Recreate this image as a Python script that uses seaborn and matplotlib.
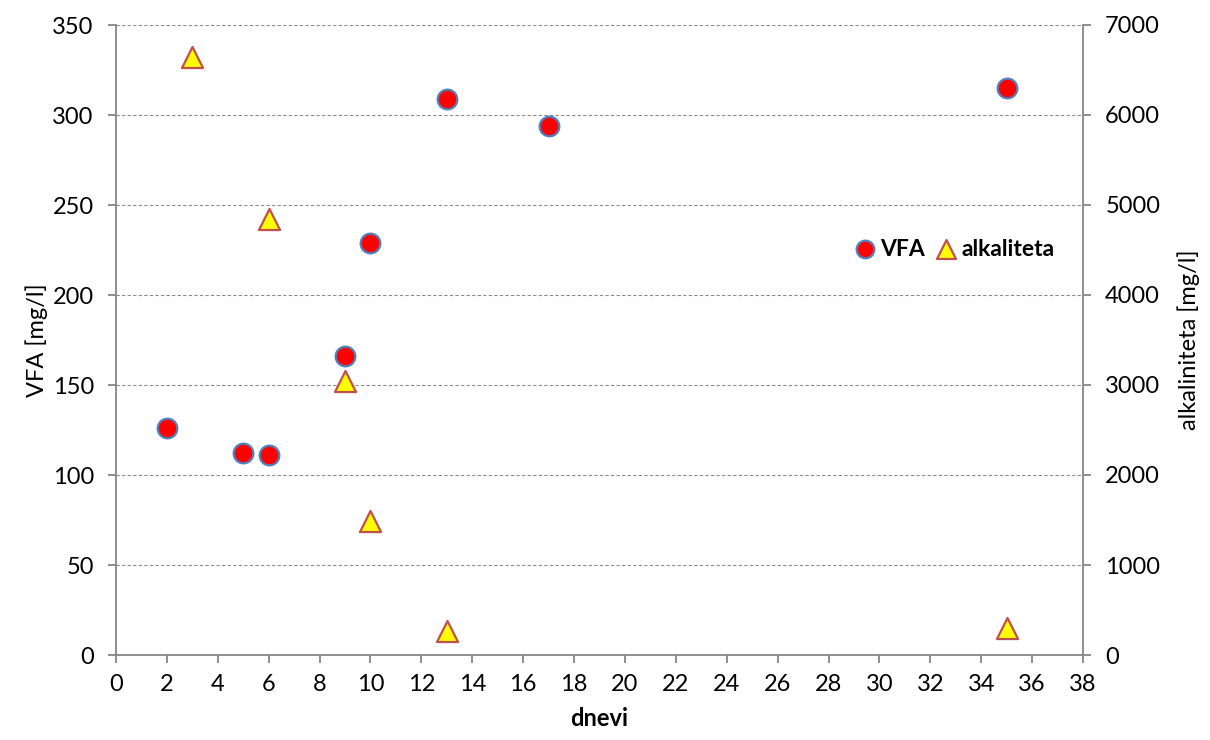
import matplotlib
matplotlib.use("Agg")
import matplotlib.pyplot as plt
import seaborn as sns
import pandas as pd

# Measurements over time (days)
vfa_days = [2, 5, 6, 9, 10, 13, 17, 35]
vfa_values = [126, 112, 111, 166, 229, 309, 294, 315]

alk_days = [3, 6, 9, 10, 13, 35]
alk_values = [6640, 4840, 3040, 1490, 270, 300]

x_ticks = list(range(0, 39, 2))
left_ticks = list(range(0, 351, 50))
right_ticks = list(range(0, 7001, 1000))

sns.set_theme(style="white")
plt.rcParams["font.family"] = ["Lato", "DejaVu Sans"]
plt.rcParams["text.color"] = "black"
plt.rcParams["axes.labelcolor"] = "black"

vfa_df = pd.DataFrame({"dnevi": vfa_days, "VFA": vfa_values})
alk_df = pd.DataFrame({"dnevi": alk_days, "alkaliteta": alk_values})

fig = plt.figure(figsize=(12.1, 7.4), dpi=100)
ax = fig.add_axes([116 / 1210, 85 / 740, 967 / 1210, 630 / 740])
ax2 = ax.twinx()

axis_gray = "#868686"
tick_fs = 17

sns.scatterplot(data=vfa_df, x="dnevi", y="VFA", ax=ax, marker="o", s=200,
                color="#FF0000", edgecolor="#4F81BD", linewidth=1.6,
                label="VFA", legend=False, zorder=3, clip_on=False)
sns.scatterplot(data=alk_df, x="dnevi", y="alkaliteta", ax=ax2, marker="^", s=230,
                color="#FFFF00", edgecolor="#C0504D", linewidth=1.6,
                label="alkaliteta", legend=False, zorder=3, clip_on=False)

ax.set_xlim(0, 38)
ax.set_ylim(0, 350)
ax2.set_ylim(0, 7000)
ax.set_xticks(x_ticks)
ax.set_yticks(left_ticks)
ax2.set_yticks(right_ticks)

ax.grid(axis="y", color="#8c8c8c", linestyle=(0, (3, 2)), linewidth=0.8)
ax.grid(axis="x", visible=False)
ax2.grid(False)
ax.set_axisbelow(True)

for a in (ax, ax2):
    a.spines["top"].set_visible(False)
    for side in ("left", "right", "bottom"):
        a.spines[side].set_color(axis_gray)
        a.spines[side].set_linewidth(1.3)
ax.spines["right"].set_visible(False)
ax2.spines["left"].set_visible(False)
ax2.spines["bottom"].set_visible(False)

ax.tick_params(axis="both", which="major", direction="out", length=6, width=1.3,
               color=axis_gray, labelsize=tick_fs, labelcolor="black", left=True, bottom=True)
ax.tick_params(axis="x", pad=8)
ax.tick_params(axis="y", pad=10)
ax2.tick_params(axis="y", direction="out", length=6, width=1.3, color=axis_gray,
                labelsize=tick_fs, labelcolor="black", pad=10, right=True)

ax.set_xlabel("dnevi", fontsize=17, fontweight="bold", labelpad=8)
ax.set_ylabel("VFA [mg/l]", fontsize=17, labelpad=3)
ax2.set_ylabel("alkaliniteta [mg/l]", fontsize=17, labelpad=12)

h1, l1 = ax.get_legend_handles_labels()
h2, l2 = ax2.get_legend_handles_labels()
fig.legend(h1 + h2, l1 + l2, loc="center left", ncol=2, frameon=False,
           bbox_to_anchor=(854 / 1210, 1 - 249 / 740), borderpad=0, borderaxespad=0,
           prop={"weight": "bold", "size": 16.5}, handletextpad=0.2,
           columnspacing=0.45, handlelength=0.95, markerscale=0.9)

fig.savefig("out.png", dpi=100, facecolor="white")
